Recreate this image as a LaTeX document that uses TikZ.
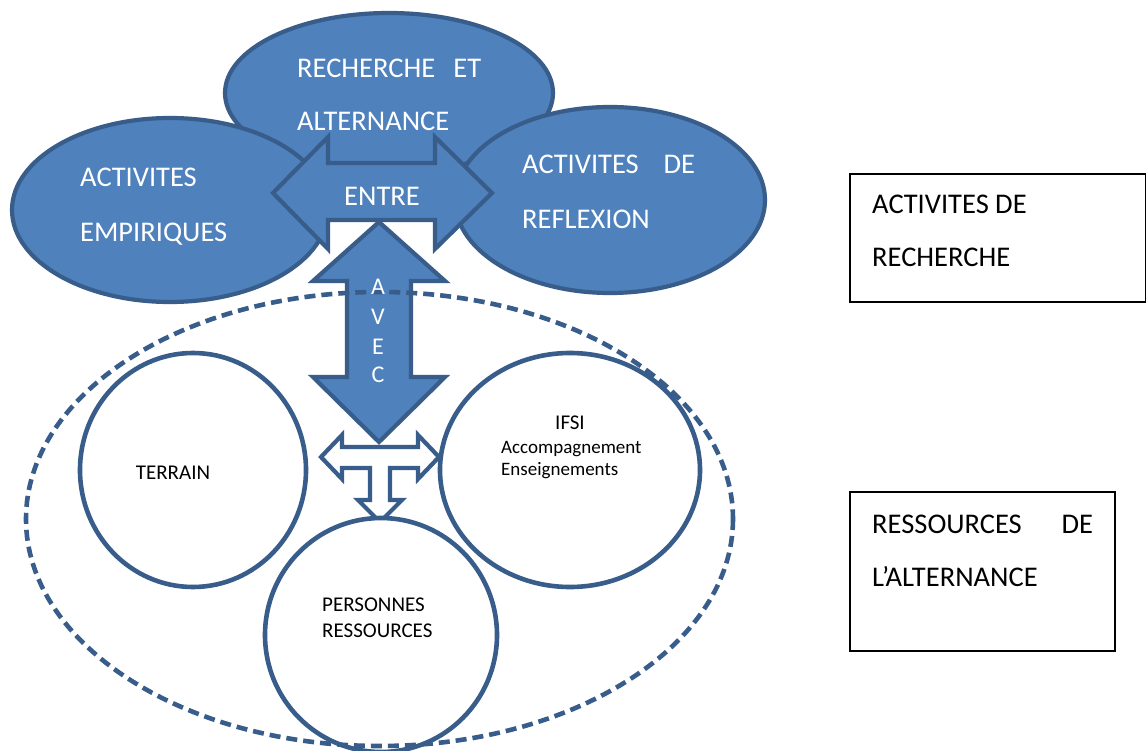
\documentclass[tikz,border=0pt]{standalone}
\usepackage{fontspec}
\setmainfont{Carlito}
\usetikzlibrary{shapes.geometric}
\definecolor{fillb}{HTML}{4F81BD}
\definecolor{lineb}{HTML}{385D8A}
\begin{document}
\begin{tikzpicture}[x=1pt,y=-1pt,
  blob/.style={fill=fillb,draw=lineb,line width=4.2pt},
  blobshape/.style={ellipse,blob,inner sep=0,outer sep=0},
  ring/.style={ellipse,draw=lineb,line width=4.6pt,fill=white,inner sep=0,outer sep=0},
  wtxt/.style={text=white,font=\fontsize{28.5}{34}\selectfont,inner sep=0},
  avtxt/.style={text=white,font=\fontsize{24}{28}\selectfont,inner sep=0,anchor=base},
  btxt/.style={text=black,font=\fontsize{28.5}{34}\selectfont,inner sep=0,anchor=base west},
  ctxt/.style={text=black,font=\fontsize{21}{25}\selectfont,inner sep=0},
  stxt/.style={text=black,font=\fontsize{19}{23}\selectfont,inner sep=0,anchor=base west},
  frame/.style={draw=black,line width=1.5pt}]
\useasboundingbox (0,0) rectangle (1146,751);
\fill[white] (0,0) rectangle (1146,751);

% top blue ellipses
\node[blobshape,minimum width=328,minimum height=160] (rech) at (389,93) {};
\node[blobshape,minimum width=316,minimum height=184] (empi) at (170,210) {};
\node[blobshape,minimum width=310,minimum height=186] (refl) at (610,200) {};

% ENTRE double arrow
\draw[blob,line join=miter] (273,193) -- (328,137) -- (328,163) -- (435,163) -- (435,137)
  -- (492,193) -- (435,249) -- (435,220) -- (328,220) -- (328,249) -- cycle;
% AVEC double arrow
\draw[blob,line join=miter] (379,222) -- (445,281) -- (411,281) -- (411,377) -- (445,377)
  -- (379,442) -- (313,377) -- (347,377) -- (347,281) -- (313,281) -- cycle;
% T arrow
\draw[draw=lineb,fill=white,line width=4.2pt,line join=miter]
  (321,457) -- (342,435) -- (342,447) -- (418,447) -- (418,435) -- (439,457)
  -- (418,479) -- (418,468) -- (390,468) -- (390,500) -- (402,500) -- (380,522)
  -- (358,500) -- (370,500) -- (370,468) -- (342,468) -- (342,479) -- cycle;

% resource circles
\node[ring,minimum width=226,minimum height=234] (terr) at (193,470) {};
\node[ring,minimum width=260,minimum height=234] (ifsi) at (570,470) {};
\node[ring,minimum width=232,minimum height=234] (pers) at (381,635) {};

% dashed ellipse
\draw[draw=lineb,line width=4.6pt,dash pattern=on 11pt off 6pt] (379.5,519) ellipse [x radius=353.5,y radius=227];

% right frames
\draw[frame] (850,174) rectangle (1146,302);
\draw[frame] (850,492) rectangle (1115,651);

% texts in blue ellipses
\node[wtxt,anchor=base west] (t1) at (297,78) {\makebox[184pt][s]{RECHERCHE ET}};
\node[wtxt,anchor=base west] (t2) at (297,131) {ALTERNANCE};
\node[wtxt,anchor=base west] (t3) at (80,187) {ACTIVITES};
\node[wtxt,anchor=base west] (t4) at (80,242) {EMPIRIQUES};
\node[wtxt,anchor=base west] (t5) at (522,174) {\makebox[173pt][s]{ACTIVITES DE}};
\node[wtxt,anchor=base west] (t6) at (522,229) {REFLEXION};
\node[wtxt,anchor=base] (t7) at (382,206) {ENTRE};
\node[avtxt] (a1) at (378,295) {A};
\node[avtxt] (a2) at (378,324) {V};
\node[avtxt] (a3) at (378,354) {E};
\node[avtxt] (a4) at (378,382) {C};

% texts in circles
\node[ctxt,anchor=base] (c1) at (173,479) {TERRAIN};
\node[ctxt,anchor=base] (c2) at (570,429) {IFSI};
\node[stxt] (c3) at (501,453) {Accompagnement};
\node[stxt] (c4) at (501,475) {Enseignements};
\node[ctxt,anchor=base west] (c5) at (322,611) {PERSONNES};
\node[ctxt,anchor=base west] (c6) at (322,637) {RESSOURCES};

% texts in frames
\node[btxt] (f1) at (872,214) {ACTIVITES DE};
\node[btxt] (f2) at (872,267) {RECHERCHE};
\node[btxt] (f3) at (872,533) {\makebox[221pt][s]{RESSOURCES DE}};
\node[btxt] (f4) at (872,586) {L’ALTERNANCE};
\end{tikzpicture}
\end{document}
